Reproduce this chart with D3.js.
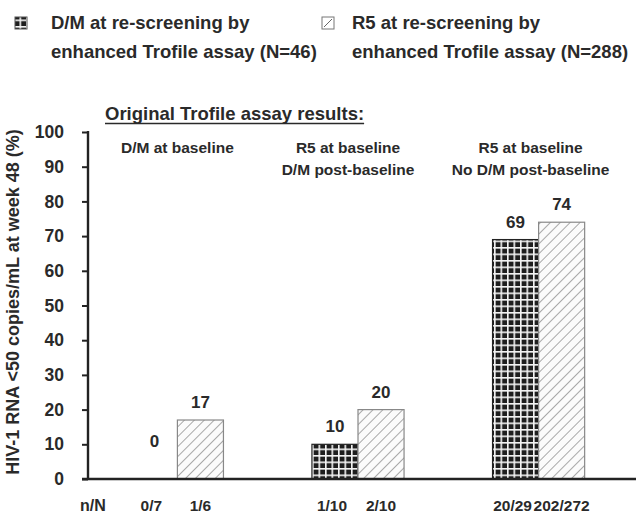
<!DOCTYPE html>
<html>
<head>
<meta charset="utf-8">
<script src="https://cdn.jsdelivr.net/npm/d3@7"></script>
<style>
  body { margin: 0; background: #fff; }
  svg text { font-family: "Liberation Sans", Arial, sans-serif; font-weight: bold; fill: #2a2a2a; }
</style>
</head>
<body>
<svg id="chart" width="636" height="514"></svg>
<script>
// groups (original Trofile result) and the two re-screening series
const groups = ["g1", "g2", "g3"];
const groupLabels = [["D/M at baseline"], ["R5 at baseline", "D/M post-baseline"], ["R5 at baseline", "No D/M post-baseline"]];
const series = ["DM", "R5"];
const seriesLabels = [["D/M at re-screening by", "enhanced Trofile assay (N=46)"],
                      ["R5 at re-screening by", "enhanced Trofile assay (N=288)"]];
const dmValues = [0, 10, 69];
const r5Values = [17, 20, 74];
const dmCounts = ["0/7", "1/10", "20/29"];
const r5Counts = ["1/6", "2/10", "202/272"];
const yTicks = [0, 10, 20, 30, 40, 50, 60, 70, 80, 90, 100];

const data = [];
groups.forEach((g, i) => {
  data.push({ g: g, s: "DM", v: dmValues[i], n: dmCounts[i] });
  data.push({ g: g, s: "R5", v: r5Values[i], n: r5Counts[i] });
});

const svg = d3.select("#chart");

// patterns
const defs = svg.append("defs");
const grid = defs.append("pattern")
  .attr("id", "grid").attr("patternUnits", "userSpaceOnUse")
  .attr("width", 6.5).attr("height", 6.5);
grid.append("rect").attr("width", 6.5).attr("height", 6.5).attr("fill", "#1e1e1e");
grid.append("rect").attr("x", 0).attr("y", 0).attr("width", 6.5).attr("height", 1.6).attr("fill", "#f4f4f4");
grid.append("rect").attr("x", 0).attr("y", 0).attr("width", 1.6).attr("height", 6.5).attr("fill", "#f4f4f4");

const hatch = defs.append("pattern")
  .attr("id", "hatch").attr("patternUnits", "userSpaceOnUse")
  .attr("width", 7).attr("height", 7)
  .attr("patternTransform", "rotate(45)");
hatch.append("rect").attr("width", 7).attr("height", 7).attr("fill", "#fbfbfb");
hatch.append("line").attr("x1", 0).attr("y1", 0).attr("x2", 0).attr("y2", 7)
  .attr("stroke", "#555").attr("stroke-width", 1);

const fills = { DM: "url(#grid)", R5: "url(#hatch)" };
const strokes = { DM: "#222", R5: "#888" };

// scales
const y = d3.scaleLinear().domain([0, 100]).range([479, 132]);
const x = d3.scaleBand().domain(groups).range([88, 628]).paddingInner(0.49).paddingOuter(0.24);
const xs = d3.scaleBand().domain(series).range([0, x.bandwidth()]);

// y axis
const yAxis = svg.append("g")
  .attr("transform", "translate(88,0)")
  .call(d3.axisLeft(y).tickValues(yTicks).tickSize(6).tickPadding(18).tickFormat(d3.format("d")));
yAxis.select(".domain").attr("stroke", "#222").attr("stroke-width", 2.4).attr("d", "M0,479V131");
yAxis.selectAll(".tick line").attr("stroke", "#222").attr("stroke-width", 2);
yAxis.selectAll(".tick text").style("font-size", "17.5px").attr("fill", "#2a2a2a")
  .attr("font-family", null);

// bars
svg.append("g").selectAll("rect")
  .data(data.filter(d => d.v > 0))
  .enter().append("rect")
    .attr("x", d => x(d.g) + xs(d.s))
    .attr("y", d => y(d.v))
    .attr("width", xs.bandwidth())
    .attr("height", d => y(0) - y(d.v))
    .attr("fill", d => fills[d.s])
    .attr("stroke", d => strokes[d.s])
    .attr("stroke-width", 1.2);

// x axis line
svg.append("line")
  .attr("x1", 82).attr("x2", 636).attr("y1", y(0)).attr("y2", y(0))
  .attr("stroke", "#222").attr("stroke-width", 2.4);

// value labels
svg.append("g").selectAll("text")
  .data(data)
  .enter().append("text")
    .attr("x", d => x(d.g) + xs(d.s) + xs.bandwidth() / 2)
    .attr("y", d => Math.min(y(d.v) - 12, y(0) - 32))
    .attr("text-anchor", "middle")
    .style("font-size", "17px")
    .text(d => d.v);

// n/N row
svg.append("text").attr("x", 80).attr("y", 511).style("font-size", "16px").text("n/N");
svg.append("g").selectAll("text")
  .data(data)
  .enter().append("text")
    .attr("x", d => x(d.g) + xs(d.s) + xs.bandwidth() / 2 + (d.s === "DM" ? -3 : 0))
    .attr("y", 511)
    .attr("text-anchor", "middle")
    .style("font-size", "15.5px")
    .text(d => d.n);

// group headers (nudged slightly left of the bar pairs, as in the source figure)
const headerShift = [0, -10, -8];
const gh = svg.append("g").selectAll("text")
  .data(groups)
  .enter().append("text")
    .attr("text-anchor", "middle")
    .style("font-size", "15.5px");
gh.each(function(g, i) {
  const t = d3.select(this);
  groupLabels[i].forEach((line, j) => {
    t.append("tspan")
      .attr("x", x(g) + x.bandwidth() / 2 + headerShift[i])
      .attr("y", 153 + j * 22)
      .text(line);
  });
});

// title with underline
const title = svg.append("text")
  .attr("x", 105).attr("y", 120)
  .style("font-size", "18.5px")
  .text("Original Trofile assay results:");
const tw = title.node().getComputedTextLength();
svg.append("line").attr("x1", 105).attr("x2", 105 + tw).attr("y1", 123.5).attr("y2", 123.5)
  .attr("stroke", "#2a2a2a").attr("stroke-width", 1.5);

// y axis title
svg.append("text")
  .attr("transform", "translate(19,302) rotate(-90)")
  .attr("text-anchor", "middle")
  .style("font-size", "18px")
  .text("HIV-1 RNA <50 copies/mL at week 48 (%)");

// legend
const legX = [15, 322], legTextX = [51, 352];
series.forEach((s, i) => {
  svg.append("rect")
    .attr("x", legX[i]).attr("y", 17).attr("width", 12).attr("height", 12)
    .attr("fill", s === "DM" ? "url(#grid)" : "#fff")
    .attr("stroke", s === "DM" ? "#555" : "#777").attr("stroke-width", 1);
  if (s === "R5") {
    svg.append("line")
      .attr("x1", legX[i] + 2).attr("y1", 27).attr("x2", legX[i] + 10).attr("y2", 19)
      .attr("stroke", "#666").attr("stroke-width", 1);
  }
  seriesLabels[i].forEach((line, j) => {
    svg.append("text")
      .attr("x", legTextX[i]).attr("y", 28.5 + j * 29)
      .style("font-size", "18.5px")
      .text(line);
  });
});
</script>
</body>
</html>
